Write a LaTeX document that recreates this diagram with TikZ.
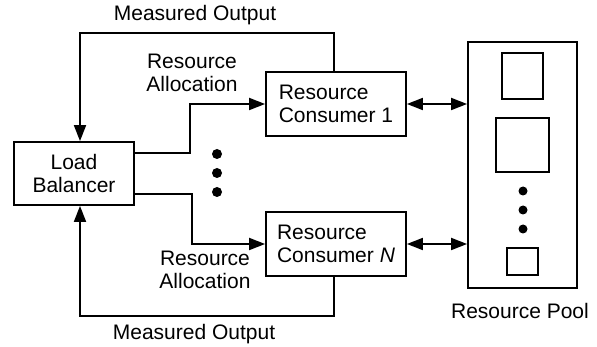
\documentclass[tikz,border=0pt]{standalone}
\usepackage{fontspec}
\setmainfont{Liberation Sans}
\usetikzlibrary{arrows.meta}
\begin{document}
\begin{tikzpicture}[x=1pt,y=-1pt,
  every node/.style={font=\fontsize{21}{23.5}\selectfont},
  box/.style={draw,line width=1.8pt,inner sep=0pt},
  wire/.style={line width=1.8pt},
  tip/.tip={Triangle[length=16pt,width=12pt]},
  arr/.style={wire,-tip},
  darr/.style={wire,tip-tip},
  lbl/.style={align=center,inner sep=0pt}]
\useasboundingbox (0,0) rectangle (597,347);

% blocks
\node[box,minimum width=120pt,minimum height=63pt,align=center] (lb) at (74,173.5) {Load\\Balancer};
\node[box,minimum width=140pt,minimum height=64pt,align=left] (c1) at (336,104) {Resource\\Consumer 1};
\node[box,minimum width=140pt,minimum height=64pt,align=left] (cn) at (336,244) {Resource\\Consumer \textit{N}};
\node[box,minimum width=109pt,minimum height=246pt] (pool) at (522.5,165) {};

% resources held in the pool
\draw[line width=1.8pt] (502,53) rectangle (543,99);
\draw[line width=1.8pt] (496,118) rectangle (549,172);
\draw[line width=1.8pt] (507,248) rectangle (538,275);
\fill (523,191) circle (4.5);
\fill (523,210) circle (4.5);
\fill (523,229) circle (4.5);

% consumers between 1 and N
\fill (217,154) circle (5);
\fill (217,173) circle (5);
\fill (217,192) circle (5);

% routing points
\coordinate (tl) at (80,33);
\coordinate (tr) at (334,33);
\coordinate (bl) at (80,316);
\coordinate (br) at (334,316);
\coordinate (a1) at (190,153);
\coordinate (a2) at (192,194);

% measured output feedback
\draw[arr] (c1.north -| tr) -- (tr) -- (tl) -- (lb.north -| tl);
\draw[arr] (cn.south -| br) -- (br) -- (bl) -- (lb.south -| bl);

% resource allocation
\draw[arr] (lb.east |- a1) -- (a1) |- (c1.west);
\draw[arr] (lb.east |- a2) -- (a2) |- (cn.west);

% consumer <-> pool
\draw[darr] (c1.east) -- (pool.west |- c1.east);
\draw[darr] (cn.east) -- (pool.west |- cn.east);

% labels
\node[lbl] (mo1) at (195,15) {Measured Output};
\node[lbl] (mo2) at (194,334) {Measured Output};
\node[lbl] (ra1) at (192,73) {Resource\\Allocation};
\node[lbl] (ra2) at (205,270) {Resource\\Allocation};
\node[lbl] (rp) at (520,311) {Resource Pool};
\end{tikzpicture}
\end{document}
